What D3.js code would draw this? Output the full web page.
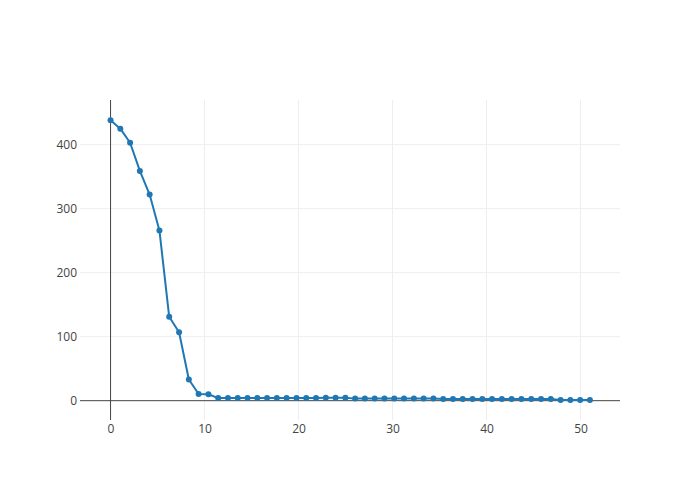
<!DOCTYPE html>
<html>
<head>
<meta charset="utf-8">
<script src="https://cdn.jsdelivr.net/npm/d3@7/dist/d3.min.js"></script>
<style>
  html, body { margin: 0; padding: 0; background: #fff; }
  svg { display: block; }
  text { font-family: "Open Sans", sans-serif; }
</style>
</head>
<body>
<svg id="chart" width="700" height="500"></svg>
<script>
const xValues = [0, 1.04, 2.08, 3.12, 4.16, 5.20, 6.24, 7.29, 8.33, 9.37,
  10.41, 11.45, 12.49, 13.53, 14.57, 15.61, 16.65, 17.69, 18.73, 19.78,
  20.82, 21.86, 22.90, 23.94, 24.98, 26.02, 27.06, 28.10, 29.14, 30.18,
  31.22, 32.27, 33.31, 34.35, 35.39, 36.43, 37.47, 38.51, 39.55, 40.59,
  41.63, 42.67, 43.71, 44.76, 45.80, 46.84, 47.88, 48.92, 49.96, 51.0];
const yValues = [438, 425, 403, 359, 322, 266, 131, 107, 33, 10.5,
  10, 4, 4, 4, 4, 4, 4, 4, 4, 4,
  4, 4, 4.6, 4.6, 4.6, 3.2, 3.2, 3.2, 3.2, 3.2,
  3.2, 3.2, 3.2, 3.2, 2.8, 2.8, 2.8, 2.8, 2.8, 2.8,
  2.8, 2.8, 2.8, 2.8, 2.8, 2.8, 1, 1, 1, 1];
const xTicks = [0, 10, 20, 30, 40, 50];
const yTicks = [0, 100, 200, 300, 400];

const W = 700, H = 500;
const m = {l: 80, r: 80, t: 100, b: 80};
const svg = d3.select("#chart");

const x = d3.scaleLinear().domain([-3.25, 54.2]).range([m.l, W - m.r]);
const y = d3.scaleLinear().domain([-30.2, 469.8]).range([H - m.b, m.t]);

// grid
svg.append("g").selectAll("line").data(xTicks.filter(d => d !== 0)).join("line")
  .attr("x1", d => x(d)).attr("x2", d => x(d))
  .attr("y1", m.t).attr("y2", H - m.b)
  .attr("stroke", "#eee").attr("stroke-width", 1);
svg.append("g").selectAll("line").data(yTicks.filter(d => d !== 0)).join("line")
  .attr("x1", m.l).attr("x2", W - m.r)
  .attr("y1", d => y(d)).attr("y2", d => y(d))
  .attr("stroke", "#eee").attr("stroke-width", 1);

// zero lines
svg.append("line")
  .attr("x1", x(0)).attr("x2", x(0)).attr("y1", m.t).attr("y2", H - m.b)
  .attr("stroke", "#444").attr("stroke-width", 1);
svg.append("line")
  .attr("x1", m.l).attr("x2", W - m.r).attr("y1", y(0)).attr("y2", y(0))
  .attr("stroke", "#444").attr("stroke-width", 1);

// axes
const xAxis = d3.axisBottom(x).tickValues(xTicks).tickSize(0).tickPadding(0);
const gx = svg.append("g").attr("transform", `translate(0,${H - m.b})`).call(xAxis);
gx.select(".domain").remove();
gx.selectAll("text").attr("font-size", 12).attr("fill", "#444").attr("dy", "1.1em")
  .attr("font-family", "'Open Sans', sans-serif");

const yAxis = d3.axisLeft(y).tickValues(yTicks).tickSize(0).tickPadding(3);
const gy = svg.append("g").attr("transform", `translate(${m.l},0)`).call(yAxis);
gy.select(".domain").remove();
gy.selectAll("text").attr("font-size", 12).attr("fill", "#444")
  .attr("font-family", "'Open Sans', sans-serif");

const data = xValues.map((d, i) => [d, yValues[i]]);

svg.append("path").datum(data)
  .attr("fill", "none").attr("stroke", "#1f77b4").attr("stroke-width", 2)
  .attr("stroke-linejoin", "round")
  .attr("d", d3.line().x(d => x(d[0])).y(d => y(d[1])));

svg.append("g").selectAll("circle").data(data).join("circle")
  .attr("cx", d => x(d[0])).attr("cy", d => y(d[1])).attr("r", 3)
  .attr("fill", "#1f77b4");
</script>
</body>
</html>
